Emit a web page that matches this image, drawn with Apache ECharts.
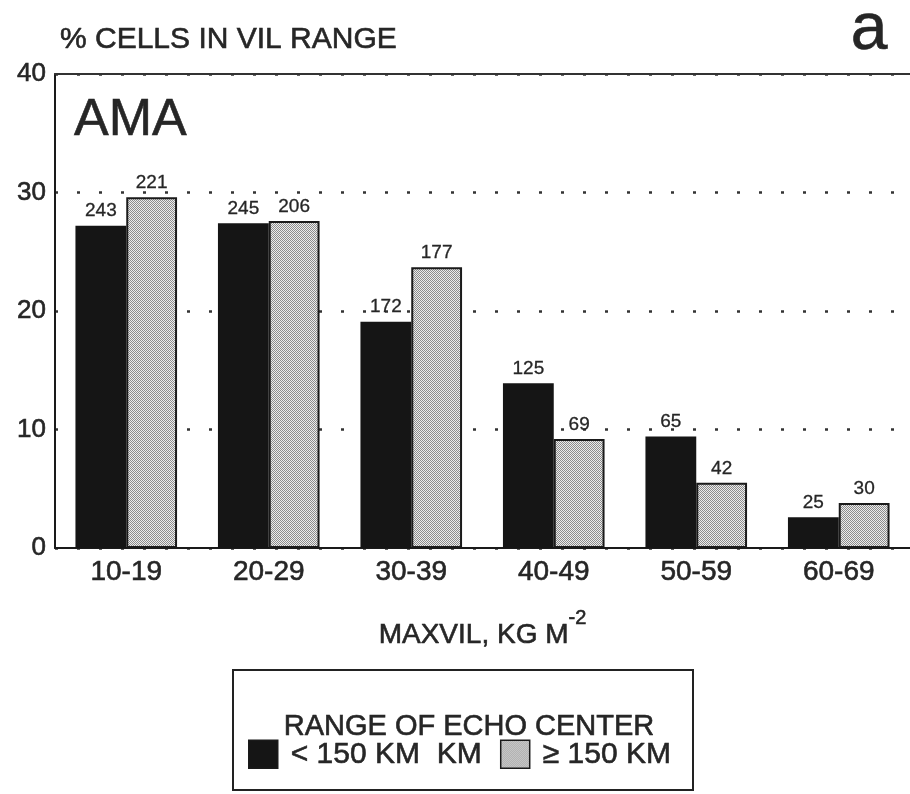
<!DOCTYPE html>
<html>
<head>
<meta charset="utf-8">
<script src="https://cdn.jsdelivr.net/npm/echarts@6/dist/echarts.min.js"></script>
<style>
  html, body { margin: 0; padding: 0; background: #fff; }
  #chart { width: 910px; height: 794px; }
</style>
</head>
<body>
<div id="chart"></div>
<script>
// MAXVIL ranges (kg m^-2)
const categories = ['10-19', '20-29', '30-39', '40-49', '50-59', '60-69'];
// Percent of cells whose echo center is nearer than 150 km
const nearPct = [27.2, 27.4, 19.1, 13.9, 9.4, 2.6];
// Percent of cells whose echo center is at 150 km or farther
const farPct = [29.6, 27.6, 23.7, 9.2, 5.5, 3.8];
// Number of cells in each bin (printed above the bars)
const nearCount = [243, 245, 172, 125, 65, 25];
const farCount = [221, 206, 177, 69, 42, 30];
const yTicks = [0, 10, 20, 30, 40];
const seriesNames = ['< 150 KM  KM', '\u2265 150 KM'];

const FONT = '"Liberation Sans", Arial, Helvetica, sans-serif';
const INK = '#262626';
// slight stroke around glyphs gives the heavier printed look
const heavy = { textBorderColor: INK, textBorderWidth: 0.6 };

// Halftone-like dotted fill for the far-range bars
function makeDots() {
  const c = document.createElement('canvas');
  c.width = 2; c.height = 2;
  const g = c.getContext('2d');
  g.fillStyle = '#ececec'; g.fillRect(0, 0, 2, 2);
  g.fillStyle = '#8c8c8c';
  g.fillRect(0, 0, 1, 1);
  g.fillRect(1, 1, 1, 1);
  return c;
}
const dotFill = { image: makeDots(), repeat: 'repeat' };

const chart = echarts.init(document.getElementById('chart'), null, { renderer: 'canvas' });

const countLabel = (counts) => ({
  show: true,
  position: 'top',
  distance: 5,
  fontFamily: FONT,
  fontSize: 19,
  color: INK,
  textBorderColor: INK,
  textBorderWidth: 0.3,
  formatter: (p) => String(counts[p.dataIndex])
});

chart.setOption({
  animation: false,
  backgroundColor: '#ffffff',
  textStyle: { fontFamily: FONT },
  title: [
    {
      text: 'AMA', left: 69, top: 90,
      textStyle: Object.assign({ fontFamily: FONT, fontSize: 52, fontWeight: 'normal', color: INK }, heavy)
    },
    {
      text: 'a', right: 17, top: -7,
      textStyle: Object.assign({ fontFamily: FONT, fontSize: 66, fontWeight: 'normal', color: INK }, heavy)
    },
    {
      text: 'RANGE OF ECHO CENTER', left: 464, top: 707, textAlign: 'center',
      textStyle: Object.assign({ fontFamily: FONT, fontSize: 29, fontWeight: 'normal', color: INK }, heavy)
    }
  ],
  graphic: [
    {
      type: 'rect',
      shape: { x: 233, y: 670, width: 460, height: 120 },
      style: { fill: 'none', stroke: '#222', lineWidth: 2 }
    }
  ],
  legend: {
    left: 243, top: 734,
    icon: 'rect',
    itemWidth: 29, itemHeight: 28,
    itemGap: 18,
    data: seriesNames,
    itemStyle: { borderColor: '#1a1a1a', borderWidth: 1.5 },
    textStyle: Object.assign({ fontFamily: FONT, fontSize: 30, color: INK, padding: [0, 0, 0, 8] }, heavy)
  },
  grid: { left: 55, top: 74, width: 858, height: 474, containLabel: false },
  xAxis: [
    {
      type: 'category',
      data: categories,
      axisLine: { show: true, lineStyle: { color: '#1a1a1a', width: 2 } },
      axisTick: { show: false },
      axisLabel: Object.assign({ fontFamily: FONT, fontSize: 28, color: INK, margin: 10 }, heavy),
      name: '{m|MAXVIL, KG M}{s|-2}',
      nameLocation: 'middle',
      nameGap: 60,
      nameTextStyle: {
        rich: {
          m: Object.assign({ fontFamily: FONT, fontSize: 28, color: INK }, heavy),
          s: Object.assign({ fontFamily: FONT, fontSize: 20, color: INK, padding: [0, 0, 34, 0] }, heavy)
        }
      }
    },
    {
      type: 'category',
      data: categories,
      position: 'top',
      axisLine: { show: true, lineStyle: { color: '#333', width: 2 } },
      axisTick: { show: false },
      axisLabel: { show: false }
    }
  ],
  yAxis: {
    type: 'value',
    min: yTicks[0],
    max: yTicks[yTicks.length - 1],
    interval: 10,
    name: '% CELLS IN VIL RANGE',
    nameLocation: 'end',
    nameGap: 19,
    nameTextStyle: Object.assign({ fontFamily: FONT, fontSize: 30, color: INK, align: 'left', padding: [0, 0, 0, 5] }, heavy),
    axisLine: { show: true, lineStyle: { color: '#1a1a1a', width: 2 } },
    axisTick: { show: false },
    axisLabel: Object.assign({ fontFamily: FONT, fontSize: 26, color: INK, margin: 9 }, heavy),
    splitLine: { show: true, lineStyle: { color: '#333', width: 2.5, type: [3, 19] } }
  },
  series: [
    {
      name: seriesNames[0],
      type: 'bar',
      data: nearPct,
      barGap: '0%',
      barCategoryGap: '28.7%',
      itemStyle: { color: '#151515' },
      label: countLabel(nearCount)
    },
    {
      name: seriesNames[1],
      type: 'bar',
      data: farPct,
      barGap: '0%',
      barCategoryGap: '28.7%',
      itemStyle: { color: dotFill, borderColor: '#1a1a1a', borderWidth: 2 },
      label: countLabel(farCount)
    }
  ]
});
</script>
</body>
</html>
